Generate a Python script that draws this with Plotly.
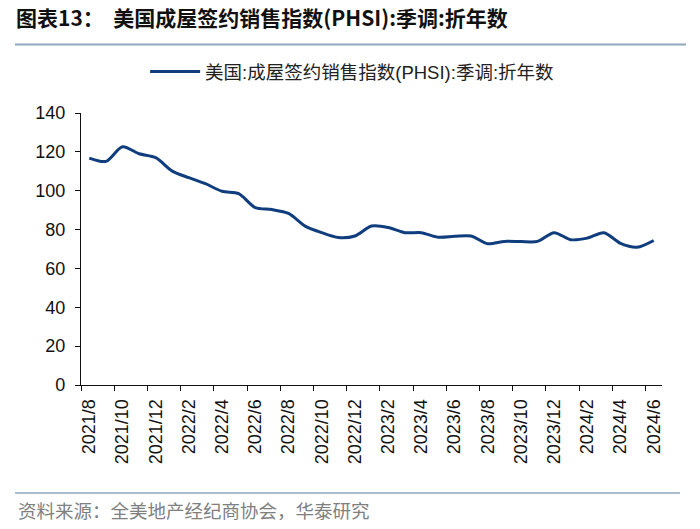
import plotly.graph_objects as go

# ---- data ----
months = [
    "2021/8", "2021/9", "2021/10", "2021/11", "2021/12",
    "2022/1", "2022/2", "2022/3", "2022/4", "2022/5", "2022/6", "2022/7",
    "2022/8", "2022/9", "2022/10", "2022/11", "2022/12",
    "2023/1", "2023/2", "2023/3", "2023/4", "2023/5", "2023/6", "2023/7",
    "2023/8", "2023/9", "2023/10", "2023/11", "2023/12",
    "2024/1", "2024/2", "2024/3", "2024/4", "2024/5", "2024/6",
]
phsi = [
    116.8, 115.1, 122.6, 119.0, 117.0,
    110.1, 106.7, 103.6, 99.7, 98.5, 91.3, 90.3,
    88.3, 81.8, 78.4, 75.9, 76.7,
    81.8, 81.1, 78.4, 78.4, 76.1, 76.5, 76.7,
    72.7, 73.9, 73.8, 73.9, 78.4,
    74.8, 75.6, 78.4, 72.9, 70.9, 74.4,
]
series_name = "美国:成屋签约销售指数(PHSI):季调:折年数"
title_text = "图表13：  美国成屋签约销售指数(PHSI):季调:折年数"
source_text = "资料来源：全美地产经纪商协会，华泰研究"
y_ticks = [0, 20, 40, 60, 80, 100, 120, 140]

idx = list(range(len(months)))
label_idx = idx[::2]
label_txt = [months[i] for i in label_idx]
boundary_ticks = [i - 0.5 for i in label_idx if i - 0.5 < len(months) - 1]

W, H = 700, 529
ml, mr, mt, mb = 81, 38, 113, 144
pw, ph = W - ml - mr, H - mt - mb

def px2paper_x(px):
    return (px - ml) / pw

def px2paper_y(py):
    return (H - mb - py) / ph

font_sans = "Liberation Sans, Arial, Noto Sans CJK SC, sans-serif"
font_cjk = "Noto Sans CJK SC, Liberation Sans, sans-serif"

fig = go.Figure()
fig.add_trace(go.Scatter(
    x=idx, y=phsi, mode="lines", name=series_name,
    line=dict(color="#0F3D7D", width=3, shape="spline", smoothing=0.8),
))

fig.update_layout(
    width=W, height=H,
    margin=dict(l=ml, r=mr, t=mt, b=mb),
    paper_bgcolor="white", plot_bgcolor="white",
    showlegend=True,
    legend=dict(
        orientation="h", xref="container", yref="container",
        x=0.503, xanchor="center", y=1 - 72 / H, yanchor="middle",
        font=dict(family=font_sans, size=18.5, color="#222"),
        itemwidth=50,
    ),
    title=dict(
        text="<b>" + title_text + "</b>",
        xref="container", yref="container",
        x=16 / W, xanchor="left", y=1 - 19 / H, yanchor="middle",
        font=dict(family=font_cjk, size=21, color="#111"),
    ),
    xaxis=dict(
        range=[-0.5, len(months) - 0.5],
        tickmode="array", tickvals=label_idx, ticktext=label_txt,
        ticks="", tickangle=-90, ticklabelstandoff=6,
        tickfont=dict(family=font_sans, size=18, color="#111"),
        showline=True, linecolor="#111", linewidth=1.2,
        showgrid=False, zeroline=False,
        minor=dict(tickmode="array", tickvals=boundary_ticks, ticks="outside",
                   ticklen=5, tickcolor="#111", tickwidth=1.2, showgrid=False),
    ),
    yaxis=dict(
        range=[0, 140], tickmode="array", tickvals=y_ticks,
        ticks="outside", ticklen=5, tickcolor="#111", tickwidth=1.2,
        ticklabelstandoff=6,
        tickfont=dict(family=font_sans, size=18, color="#111"),
        showline=True, linecolor="#111", linewidth=1.2,
        showgrid=False, zeroline=False,
    ),
    shapes=[
        dict(type="line", xref="paper", yref="paper",
             x0=px2paper_x(15), x1=px2paper_x(686),
             y0=px2paper_y(44.5), y1=px2paper_y(44.5),
             line=dict(color="#8EA7BF", width=2)),
        dict(type="line", xref="paper", yref="paper",
             x0=px2paper_x(15), x1=px2paper_x(680),
             y0=px2paper_y(493), y1=px2paper_y(493),
             line=dict(color="#8EA7BF", width=1.5)),
    ],
    annotations=[
        dict(text=source_text, xref="paper", yref="paper",
             x=px2paper_x(16), xanchor="left",
             y=px2paper_y(510), yanchor="middle", showarrow=False,
             font=dict(family=font_cjk, size=18.5, color="#7F7F7F")),
    ],
)

fig.write_html("out.html")
